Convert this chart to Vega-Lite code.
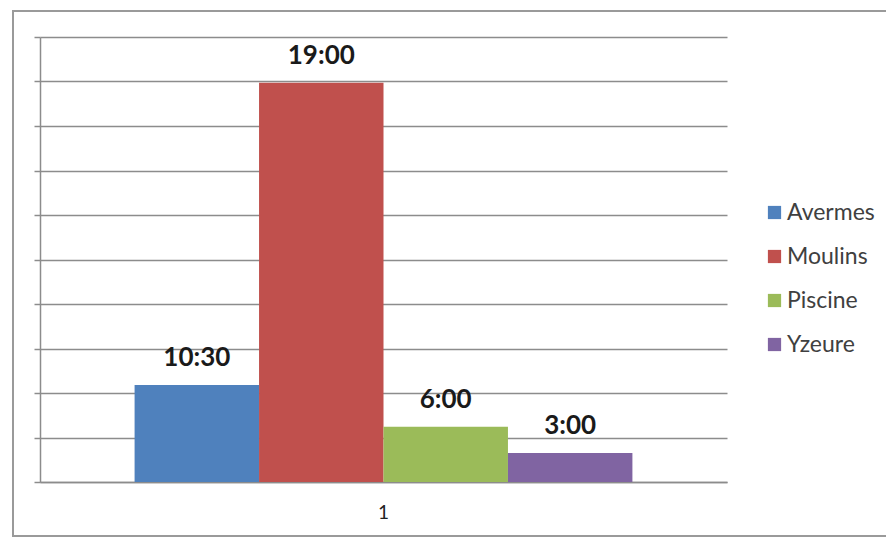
{
  "$schema": "https://vega.github.io/schema/vega-lite/v6.json",
  "width": 875,
  "height": 525,
  "autosize": {"type": "none"},
  "padding": {"left": 13, "top": 11, "right": 0, "bottom": 3},
  "background": "white",
  "config": {
    "view": {"stroke": "#9a9a9a", "strokeWidth": 2},
    "font": "Lato"
  },
  "data": {
    "values": [
      {"group": "1", "site": "Avermes", "value": 2.18, "label": "10:30"},
      {"group": "1", "site": "Moulins", "value": 8.97, "label": "19:00"},
      {"group": "1", "site": "Piscine", "value": 1.24, "label": "6:00"},
      {"group": "1", "site": "Yzeure", "value": 0.65, "label": "3:00"}
    ]
  },
  "encoding": {
    "x": {
      "field": "group",
      "type": "nominal",
      "scale": {"range": [27, 714], "paddingOuter": 0.19, "paddingInner": 0},
      "axis": {
        "title": null,
        "labelAngle": 0,
        "offset": -54,
        "domainColor": "#8c8c8c",
        "domainWidth": 1.5,
        "ticks": false,
        "labelPadding": 21,
        "labelFontSize": 19,
        "labelColor": "#222222",
        "labelFont": "Lato"
      }
    },
    "xOffset": {
      "field": "site",
      "type": "nominal",
      "scale": {"paddingInner": 0, "paddingOuter": 0}
    },
    "y": {
      "field": "value",
      "type": "quantitative",
      "scale": {"domain": [0, 10], "range": [471, 26], "nice": false},
      "axis": {
        "title": null,
        "labels": false,
        "values": [0, 1, 2, 3, 4, 5, 6, 7, 8, 9, 10],
        "offset": -27,
        "domainColor": "#8c8c8c",
        "domainWidth": 1.5,
        "tickColor": "#8c8c8c",
        "tickSize": 6,
        "tickWidth": 1.5,
        "grid": true,
        "gridColor": "#8c8c8c",
        "gridWidth": 1.5
      }
    }
  },
  "layer": [
    {
      "mark": {"type": "bar"},
      "encoding": {
        "color": {
          "field": "site",
          "type": "nominal",
          "scale": {
            "domain": ["Avermes", "Moulins", "Piscine", "Yzeure"],
            "range": ["#4F81BD", "#C0504D", "#9BBB59", "#8064A2"]
          },
          "legend": {
            "title": null,
            "orient": "none",
            "legendX": 750,
            "legendY": 190,
            "padding": 0,
            "symbolType": "square",
            "symbolSize": 175,
            "symbolStrokeWidth": 0,
            "symbolOpacity": 1,
            "labelFontSize": 23,
            "labelFont": "Lato",
            "labelColor": "#404040",
            "labelOffset": 1,
            "rowPadding": 20
          }
        }
      }
    },
    {
      "mark": {
        "type": "text",
        "baseline": "alphabetic",
        "dy": -19,
        "fontWeight": "bold",
        "fontSize": 26,
        "font": "Lato",
        "color": "#1a1a1a"
      },
      "encoding": {"text": {"field": "label"}}
    }
  ]
}
